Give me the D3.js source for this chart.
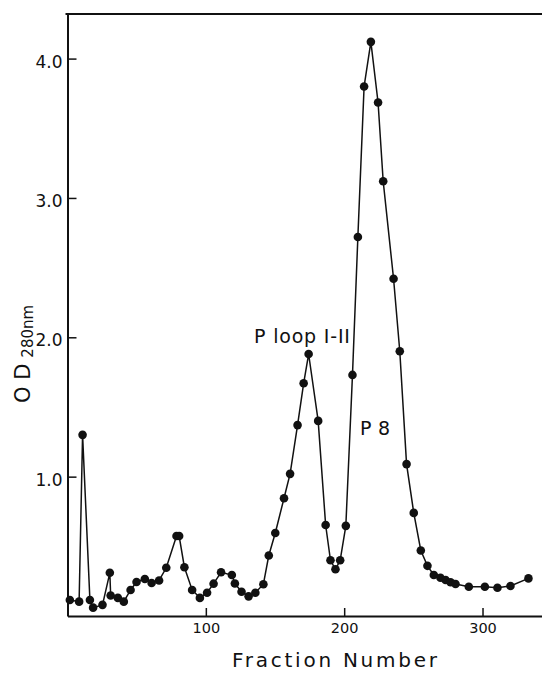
<!DOCTYPE html>
<html>
<head>
<meta charset="utf-8">
<script src="https://cdn.jsdelivr.net/npm/d3@7"></script>
<style>
  body { margin: 0; background: #fff; }
  svg { display: block; }
  text { font-family: "DejaVu Sans", sans-serif; fill: #111; }
</style>
</head>
<body>
<svg id="chart" width="542" height="675"></svg>
<script>
// fraction numbers and OD at 280 nm
var fraction = [1.7, 8.4, 10.9, 16.2, 18.5, 25.3, 30.6, 31.2, 36.4, 40.7,
  45.6, 49.9, 55.9, 60.8, 66.2, 71.4, 78.8, 80.7, 84.5, 90.1,
  95.7, 100.9, 105.6, 111.0, 118.8, 121.0, 125.8, 130.9, 135.8, 141.6,
  145.5, 150.2, 156.5, 160.9, 166.3, 170.7, 174.3, 181.2, 186.6, 190.1,
  193.7, 197.1, 201.2, 206.0, 209.9, 214.4, 219.3, 224.5, 228.2, 235.7,
  240.2, 245.1, 250.3, 255.4, 260.2, 264.8, 269.6, 273.3, 276.9, 280.5,
  290.1, 301.7, 310.8, 320.2, 333.2];
var od = [0.115, 0.103, 1.30, 0.115, 0.06, 0.08, 0.31, 0.147, 0.13, 0.103,
  0.187, 0.244, 0.266, 0.237, 0.255, 0.346, 0.574, 0.574, 0.35, 0.187,
  0.13, 0.167, 0.232, 0.314, 0.294, 0.233, 0.174, 0.141, 0.167, 0.228,
  0.434, 0.596, 0.845, 1.02, 1.37, 1.67, 1.88, 1.40, 0.653, 0.40,
  0.335, 0.40, 0.647, 1.73, 2.72, 3.80, 4.12, 3.685, 3.12, 2.42,
  1.90, 1.09, 0.74, 0.47, 0.36, 0.294, 0.275, 0.258, 0.242, 0.23,
  0.21, 0.21, 0.203, 0.215, 0.27];

var xTicks = [100, 200, 300];
var yTicks = [1.0, 2.0, 3.0, 4.0];

// peak labels: [text, fraction, od]
var peakNames = ["P loop I-II", "P8"];
var peakX = [134.8, 211.5];
var peakY = [1.96, 1.30];

var svg = d3.select("#chart");

var x = d3.scaleLinear().domain([0, 343]).range([67.5, 542]);
var y = d3.scaleLinear().domain([0, 4.32]).range([616, 14]);

var data = fraction.map(function(f, i){ return {x: f, y: od[i]}; });

// y axis, ticks pointing inward
var yAxis = d3.axisLeft(y)
  .tickValues(yTicks)
  .tickFormat(d3.format(".1f"))
  .tickSize(-9)
  .tickSizeOuter(0)
  .tickPadding(5);

var gy = svg.append("g")
  .attr("transform", "translate(" + x.range()[0] + ",0)")
  .call(yAxis);
gy.selectAll("text").attr("font-size", 17).attr("font-family", "DejaVu Sans").attr("dy", "0.5em");

// x axis
var xAxis = d3.axisBottom(x)
  .tickValues(xTicks)
  .tickSize(-8)
  .tickSizeOuter(0)
  .tickPadding(7);

var gx = svg.append("g")
  .attr("transform", "translate(0," + y.range()[0] + ")")
  .call(xAxis);
gx.selectAll("text").attr("font-size", 14.5).attr("font-family", "DejaVu Sans");

svg.selectAll(".domain").attr("stroke", "#111").attr("stroke-width", 2);
svg.selectAll(".tick line").attr("stroke", "#111").attr("stroke-width", 1.5);

// top border
svg.append("line")
  .attr("x1", x.range()[0] - 2).attr("x2", x.range()[1])
  .attr("y1", y.range()[1]).attr("y2", y.range()[1])
  .attr("stroke", "#111").attr("stroke-width", 2);

// the elution curve
var line = d3.line()
  .x(function(d){ return x(d.x); })
  .y(function(d){ return y(d.y); });

svg.append("path")
  .datum(data)
  .attr("d", line)
  .attr("fill", "none")
  .attr("stroke", "#111")
  .attr("stroke-width", 1.5);

svg.selectAll(".dot")
  .data(data)
  .enter().append("circle")
  .attr("class", "dot")
  .attr("cx", function(d){ return x(d.x); })
  .attr("cy", function(d){ return y(d.y); })
  .attr("r", 4.3)
  .attr("fill", "#111");

// peak labels
svg.selectAll(".peak")
  .data(peakNames)
  .enter().append("text")
  .attr("class", "peak")
  .attr("x", function(d, i){ return x(peakX[i]); })
  .attr("y", function(d, i){ return y(peakY[i]); })
  .attr("font-size", 19)
  .attr("textLength", function(d, i){ return i == 0 ? 96 : 30; })
  .attr("lengthAdjust", "spacing")
  .text(function(d){ return d; });

// axis titles
svg.append("text")
  .attr("x", 232)
  .attr("y", 667)
  .attr("font-size", 20)
  .attr("textLength", 205)
  .attr("lengthAdjust", "spacing")
  .text("Fraction  Number");

var yl = svg.append("text")
  .attr("transform", "translate(30,403) rotate(-90)")
  .attr("font-size", 21);
yl.append("tspan").text("O D");
yl.append("tspan").attr("font-size", 15).attr("dy", 3).attr("dx", 6).text("280nm");
</script>
</body>
</html>
